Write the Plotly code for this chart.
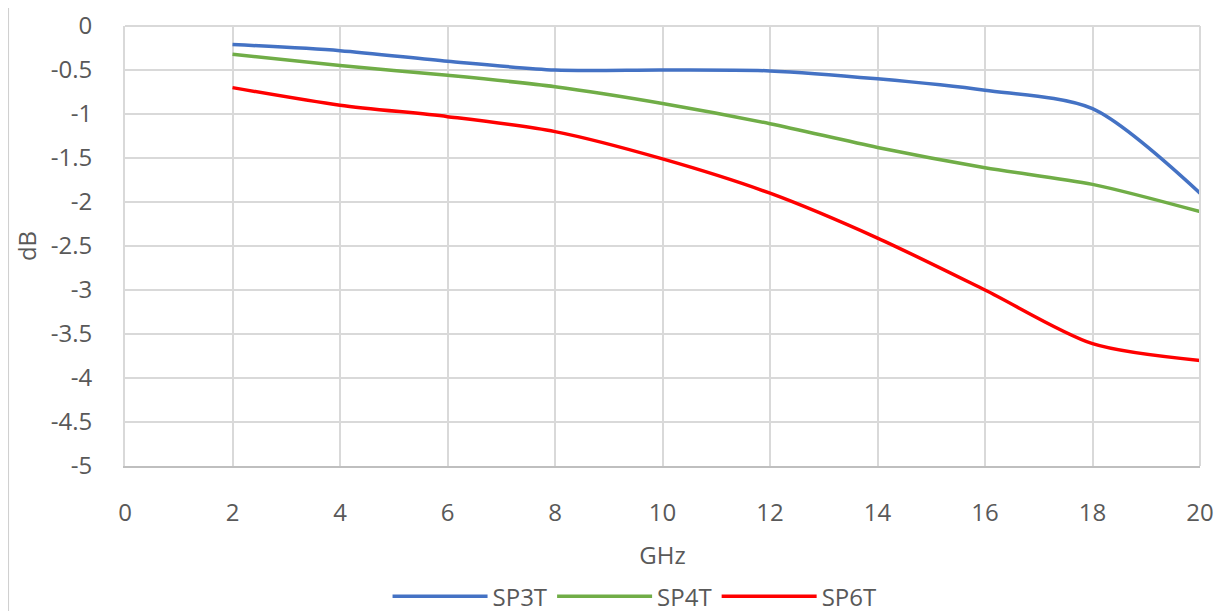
import plotly.graph_objects as go

freq = [2, 4, 6, 8, 10, 12, 14, 16, 18, 20]
sp3t = [-0.21, -0.28, -0.40, -0.50, -0.50, -0.51, -0.60, -0.73, -0.94, -1.90]
sp4t = [-0.32, -0.45, -0.56, -0.69, -0.88, -1.11, -1.38, -1.61, -1.80, -2.11]
sp6t = [-0.70, -0.90, -1.03, -1.20, -1.51, -1.90, -2.41, -3.00, -3.61, -3.80]

x_ticks = list(range(0, 21, 2))
y_ticks = [0, -0.5, -1, -1.5, -2, -2.5, -3, -3.5, -4, -4.5, -5]
y_ticktext = ["0", "-0.5", "-1", "-1.5", "-2", "-2.5", "-3", "-3.5", "-4", "-4.5", "-5"]

series = [("SP3T", sp3t, "#4472C4"), ("SP4T", sp4t, "#70AD47"), ("SP6T", sp6t, "#FF0000")]

fig = go.Figure()
for name, vals, col in series:
    fig.add_trace(go.Scatter(x=freq, y=vals, name=name, mode="lines",
                             line=dict(color=col, width=3.5, shape="spline", smoothing=0.8)))

font_col = "#595959"
fs = 24
fig.update_layout(
    width=1226, height=611,
    margin=dict(l=117, r=34, t=18, b=153, autoexpand=False),
    paper_bgcolor="white", plot_bgcolor="white",
    font=dict(family="Open Sans, Liberation Sans, sans-serif", size=fs, color=font_col),
    showlegend=True,
    legend=dict(orientation="h", x=0.474, xanchor="center", y=-0.297, yanchor="middle",
                font=dict(size=fs, color=font_col), itemwidth=95, tracegroupgap=0),
    xaxis=dict(range=[0, 20], tickvals=x_ticks, showgrid=True, gridcolor="#D9D9D9", gridwidth=2,
               zeroline=False, showline=True, linecolor="#BFBFBF", linewidth=2, mirror=False,
               ticks="", ticklen=0, ticklabelstandoff=24, automargin=False,
               ticklabeloverflow="allow",
               title=dict(text="GHz", standoff=20, font=dict(size=fs, color=font_col)),
               tickfont=dict(size=fs, color=font_col)),
    yaxis=dict(range=[-5, 0], tickvals=y_ticks, ticktext=y_ticktext, showgrid=True,
               gridcolor="#D9D9D9", gridwidth=2, zeroline=False, showline=True,
               linecolor="#D9D9D9", linewidth=2, ticks="", ticklen=0, ticklabelstandoff=26,
               automargin=False, ticklabeloverflow="allow",
               title=dict(text="dB", standoff=7, font=dict(size=fs, color=font_col)),
               tickfont=dict(size=fs, color=font_col)),
)
# right and top borders of grid
fig.add_shape(type="line", xref="paper", yref="paper", x0=1, x1=1, y0=0, y1=1,
              line=dict(color="#D9D9D9", width=2))
fig.add_shape(type="line", xref="paper", yref="paper", x0=0, x1=1, y0=1, y1=1,
              line=dict(color="#D9D9D9", width=2))
# chart area left border
fig.add_shape(type="line", xref="paper", yref="paper", x0=-0.1088, x1=-0.1088, y0=-0.4, y1=1.06,
              line=dict(color="#D0D0D0", width=2))

fig.write_html("out.html")
